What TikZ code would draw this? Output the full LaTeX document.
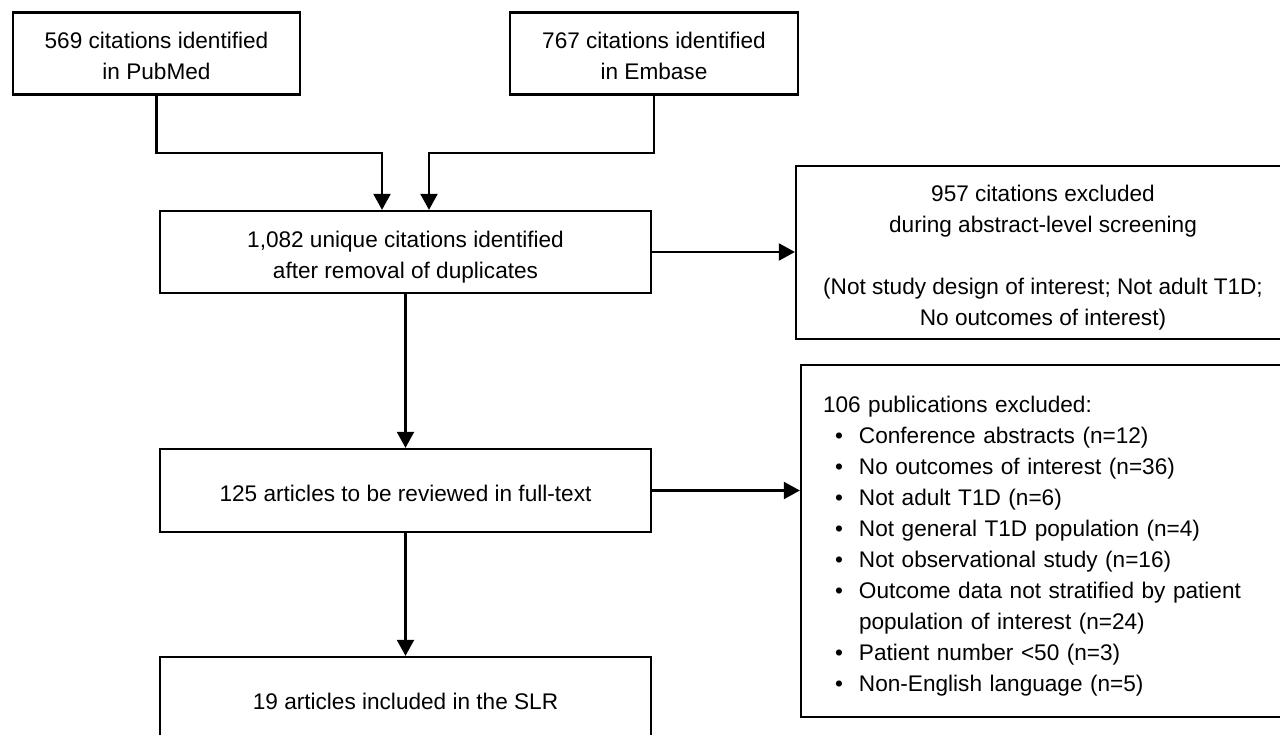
\documentclass[tikz,border=0pt]{standalone}
\usepackage{fontspec}
\setmainfont{Liberation Sans}
\usetikzlibrary{arrows.meta,calc}
\newcommand{\ft}{\rule{0pt}{28pt}}
\newcommand{\lb}{\rule[-6pt]{0pt}{6pt}}
\newcommand{\bulitem}{\hspace*{12pt}\makebox[24pt][l]{•}}
\begin{document}
\begin{tikzpicture}[x=1pt,y=-1pt,
  box/.style={draw, line width=2.3pt, rectangle, inner sep=0pt, align=center,
    font=\fontsize{22.6}{31}\selectfont},
  arr/.style={line width=2.3pt, -{Triangle[width=17pt,length=16pt]}},
  ln/.style={line width=2.3pt}]
\useasboundingbox (0,0) rectangle (1280,735);
\clip (0,0) rectangle (1280,735);
\fill[white] (0,0) rectangle (1280,735);

\node[box, minimum width=287pt, minimum height=82pt] (b1) at (156.5,53.5)
  {\ft 569 citations identified\\in PubMed\lb};
\node[box, minimum width=288pt, minimum height=82pt] (b2) at (654,53.5)
  {\ft 767 citations identified\\in Embase\lb};
\node[box, minimum width=491pt, minimum height=82pt] (b3) at (405.5,252)
  {\ft 1,082 unique citations identified\\after removal of duplicates\lb};
\node[box, minimum width=494pt, minimum height=173pt] (b4) at (1043,252.5)
  {\ft 957 citations excluded\\during abstract-level screening\\\mbox{}\\(Not study design of interest; Not adult T1D;\\No outcomes of interest)\lb};
\node[box, minimum width=491pt, minimum height=83pt] (bft) at (405.5,490.5)
  {\ft 125 articles to be reviewed in full-text\lb};
\node[box, minimum width=499pt, minimum height=352pt, inner xsep=22pt,
      text width=455pt, align=left] (b5) at (1050.5,541)
  {\ft 106 publications excluded:\\
   \bulitem Conference abstracts (n=12)\\
   \bulitem No outcomes of interest (n=36)\\
   \bulitem Not adult T1D (n=6)\\
   \bulitem Not general T1D population (n=4)\\
   \bulitem Not observational study (n=16)\\
   \bulitem Outcome data not stratified by patient\\
   \hspace*{36pt}population of interest (n=24)\\
   \bulitem Patient number {<}50 (n=3)\\
   \bulitem Non-English language (n=5)\lb};
\node[box, minimum width=491pt, minimum height=83pt] (b6) at (405.5,698.5)
  {\ft 19 articles included in the SLR\lb};

\coordinate (j1) at (382,153);
\coordinate (j2) at (429,153);
\draw[arr] (b1.south) |- (j1) -- (j1 |- b3.north);
\draw[arr] (b2.south) |- (j2) -- (j2 |- b3.north);
\draw[arr] (b3.east) -- (b3.east -| b4.west);
\draw[arr] (b3.south) -- (bft.north);
\draw[arr] (bft.east) -- (bft.east -| b5.west);
\draw[arr] (bft.south) -- (b6.north);
\end{tikzpicture}
\end{document}
